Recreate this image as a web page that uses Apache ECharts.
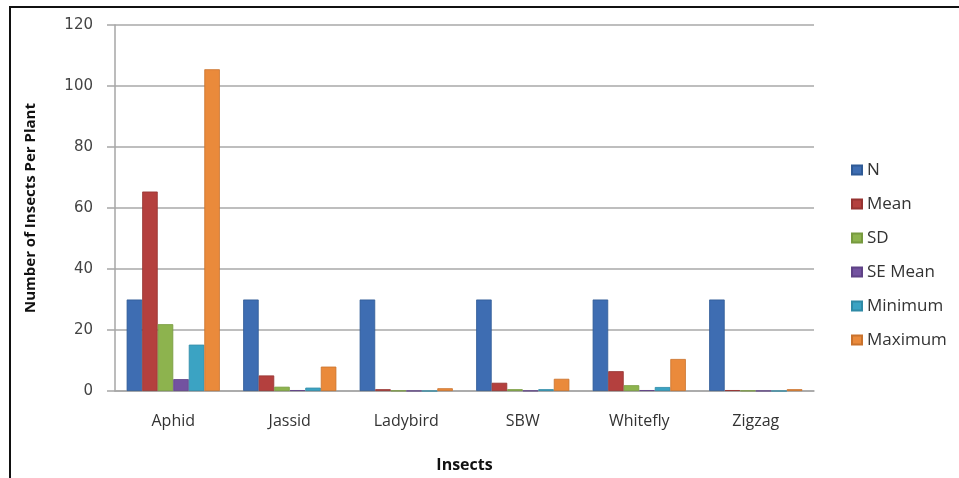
<!DOCTYPE html>
<html>
<head>
<meta charset="utf-8">
<script src="https://cdn.jsdelivr.net/npm/echarts@6/dist/echarts.min.js"></script>
<style>
  html, body { margin: 0; padding: 0; background: #fff; }
  #chart { width: 959px; height: 478px; }
</style>
</head>
<body>
<div id="chart"></div>
<script>
// Descriptive statistics of insect counts per plant
const categories = ['Aphid', 'Jassid', 'Ladybird', 'SBW', 'Whitefly', 'Zigzag'];
const seriesNames = ['N', 'Mean', 'SD', 'SE Mean', 'Minimum', 'Maximum'];
const nValues       = [30, 30, 30, 30, 30, 30];
const meanValues    = [65.4, 5.1, 0.6, 2.7, 6.5, 0.3];
const sdValues      = [21.9, 1.4, 0.1, 0.6, 1.9, 0.1];
const seMeanValues  = [3.9, 0.3, 0.05, 0.1, 0.3, 0.05];
const minimumValues = [15.2, 1.1, 0, 0.6, 1.3, 0];
const maximumValues = [105.5, 8.0, 0.9, 4.0, 10.5, 0.6];
const yTicks = { min: 0, max: 120, interval: 20 };

const colors = ['#3e6db2', '#b4403e', '#8db34e', '#7352a0', '#3ba3c3', '#ea8a3b'];
const borders = ['#2f5a96', '#963331', '#779a3f', '#5f4286', '#2f8aa6', '#c9722c'];
const valueSets = [nValues, meanValues, sdValues, seMeanValues, minimumValues, maximumValues];

const chart = echarts.init(document.getElementById('chart'));
chart.setOption({
  animation: false,
  backgroundColor: '#ffffff',
  color: colors,
  grid: { left: 115, right: 145, top: 25, bottom: 79, containLabel: false },
  legend: {
    orient: 'vertical',
    left: 846,
    top: 156,
    itemWidth: 10,
    itemHeight: 9,
    itemGap: 16,
    icon: 'rect',
    textStyle: { fontFamily: 'Open Sans', fontSize: 17, color: '#333', lineHeight: 18, padding: [0, 0, 0, 0] },
    data: seriesNames
  },
  xAxis: {
    type: 'category',
    data: categories,
    name: 'Insects',
    nameLocation: 'middle',
    nameGap: 66,
    nameTextStyle: { fontFamily: 'Open Sans', fontWeight: 'bold', fontSize: 16, color: '#111' },
    axisLine: { lineStyle: { color: '#a6a6a6', width: 1.5 } },
    axisTick: { show: false },
    axisLabel: { fontFamily: 'Open Sans', fontSize: 16, color: '#333', margin: 22 }
  },
  yAxis: {
    type: 'value',
    min: yTicks.min,
    max: yTicks.max,
    interval: yTicks.interval,
    name: 'Number of Insects Per Plant',
    nameLocation: 'middle',
    nameGap: 77,
    nameTextStyle: { fontFamily: 'Open Sans', fontWeight: 'bold', fontSize: 15, color: '#111' },
    axisLine: { show: true, lineStyle: { color: '#a6a6a6', width: 1.5 } },
    axisTick: { show: true, length: 8, lineStyle: { color: '#a6a6a6', width: 1.5 } },
    axisLabel: { fontFamily: 'DejaVu Sans', fontSize: 15, color: '#444', margin: 22 },
    splitLine: { lineStyle: { color: '#a9a9a9', width: 1.5 } }
  },
  graphic: [
    { type: 'line', shape: { x1: 9, y1: 7, x2: 959, y2: 7 }, style: { stroke: '#111', lineWidth: 2 } },
    { type: 'line', shape: { x1: 10, y1: 6, x2: 10, y2: 478 }, style: { stroke: '#111', lineWidth: 2 } }
  ],
  series: seriesNames.map((name, i) => ({
    name: name,
    type: 'bar',
    data: valueSets[i],
    barGap: '0%',
    barCategoryGap: '20%',
    itemStyle: { color: colors[i], borderColor: borders[i], borderWidth: 0.8 }
  }))
});
</script>
</body>
</html>
